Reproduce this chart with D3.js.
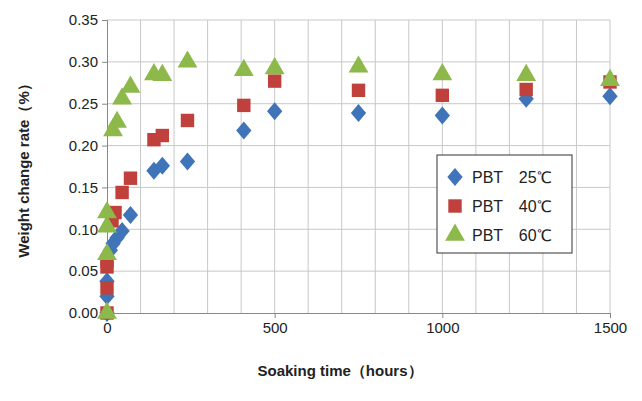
<!DOCTYPE html><html><head><meta charset="utf-8"><script src="https://cdn.jsdelivr.net/npm/d3@7"></script>
<style>body{margin:0;background:#fff}text{font-family:"Liberation Sans",Arial,sans-serif}</style></head><body><svg id="c" width="642" height="401"></svg><script>
const xTicks=[0,500,1000,1500];
const yTicks=[0,0.05,0.1,0.15,0.2,0.25,0.3,0.35];
const seriesNames=["PBT\u300025\u2103","PBT\u300040\u2103","PBT\u300060\u2103"];
const t25=[0,0,0,10,18,30,45,70,140,165,240,408,500,750,1000,1250,1500];
const v25=[0,0.02,0.038,0.075,0.083,0.09,0.098,0.117,0.170,0.176,0.181,0.218,0.241,0.239,0.236,0.256,0.259];
const t40=[0,0,0,0,15,24,45,70,140,165,240,408,500,750,1000,1250,1500];
const v40=[0,0.03,0.055,0.062,0.11,0.12,0.144,0.161,0.207,0.212,0.23,0.248,0.277,0.266,0.26,0.267,0.276];
const t60=[0,0,0,0,18,30,45,70,140,165,240,408,500,750,1000,1250,1500];
const v60=[0,0.07,0.103,0.12,0.218,0.228,0.256,0.27,0.285,0.284,0.3,0.29,0.292,0.294,0.285,0.284,0.278];
const svg=d3.select("#c");
const x=d3.scaleLinear().domain([0,1500]).range([107,610]);
const y=d3.scaleLinear().domain([0,0.35]).range([313,20]);
const g=svg.append("g");
g.selectAll(".vg").data(d3.range(100,1501,100)).join("line").attr("x1",d=>x(d)).attr("x2",d=>x(d)).attr("y1",y(0)).attr("y2",y(0.35)).attr("stroke","#c8c8c8");
g.selectAll(".hg").data(yTicks.slice(1)).join("line").attr("x1",x(0)).attr("x2",x(1500)).attr("y1",d=>y(d)).attr("y2",d=>y(d)).attr("stroke","#c8c8c8");
const xa=svg.append("g").attr("transform",`translate(0,${y(0)})`).call(d3.axisBottom(x).tickValues(xTicks).tickFormat(d3.format("d")).tickSize(5).tickPadding(4));
const ya=svg.append("g").attr("transform",`translate(${x(0)},0)`).call(d3.axisLeft(y).tickValues(yTicks).tickFormat(d3.format(".2f")).tickSize(5).tickPadding(4));
[xa,ya].forEach(a=>{a.selectAll("path,line").attr("stroke","#888");a.selectAll("text").attr("font-size",15).attr("fill","#222");});
const cols=["#3f75b8","#c0413c","#8db84a"];
const shapes=[d3.symbolDiamond,d3.symbolSquare,d3.symbolTriangle];
const sizes=[130,180,170];
const tf=i=>i==0?" scale(1.25,0.85)":"";
const data=[[t25,v25],[t40,v40],[t60,v60]];
data.forEach(([t,v],i)=>{
 svg.append("g").selectAll("path").data(t.map((d,j)=>[d,v[j]])).join("path")
 .attr("d",d3.symbol().type(shapes[i]).size(sizes[i])).attr("transform",d=>`translate(${x(d[0])},${y(d[1])})${tf(i)}`).attr("fill",cols[i]);
});
const lg=svg.append("g");
lg.append("rect").attr("x",437).attr("y",155).attr("width",135).attr("height",98).attr("fill","#fff").attr("stroke","#333");
seriesNames.forEach((n,i)=>{
 const yy=177+i*29;
 lg.append("path").attr("d",d3.symbol().type(shapes[i]).size(sizes[i])()).attr("transform",`translate(455,${yy})${tf(i)}`).attr("fill",cols[i]);
 lg.append("text").attr("x",472).attr("y",yy+6).attr("font-size",16).attr("fill","#222").text(n);
});
svg.append("text").attr("x",340).attr("y",376).attr("text-anchor","middle").attr("font-size",15).attr("font-weight","bold").attr("fill","#222").text("Soaking time\uff08hours\uff09");
svg.append("text").attr("transform","translate(29,167) rotate(-90)").attr("text-anchor","middle").attr("font-size",15).attr("font-weight","bold").attr("fill","#222").text("Weight change rate\uff08%\uff09");
</script></body></html>
